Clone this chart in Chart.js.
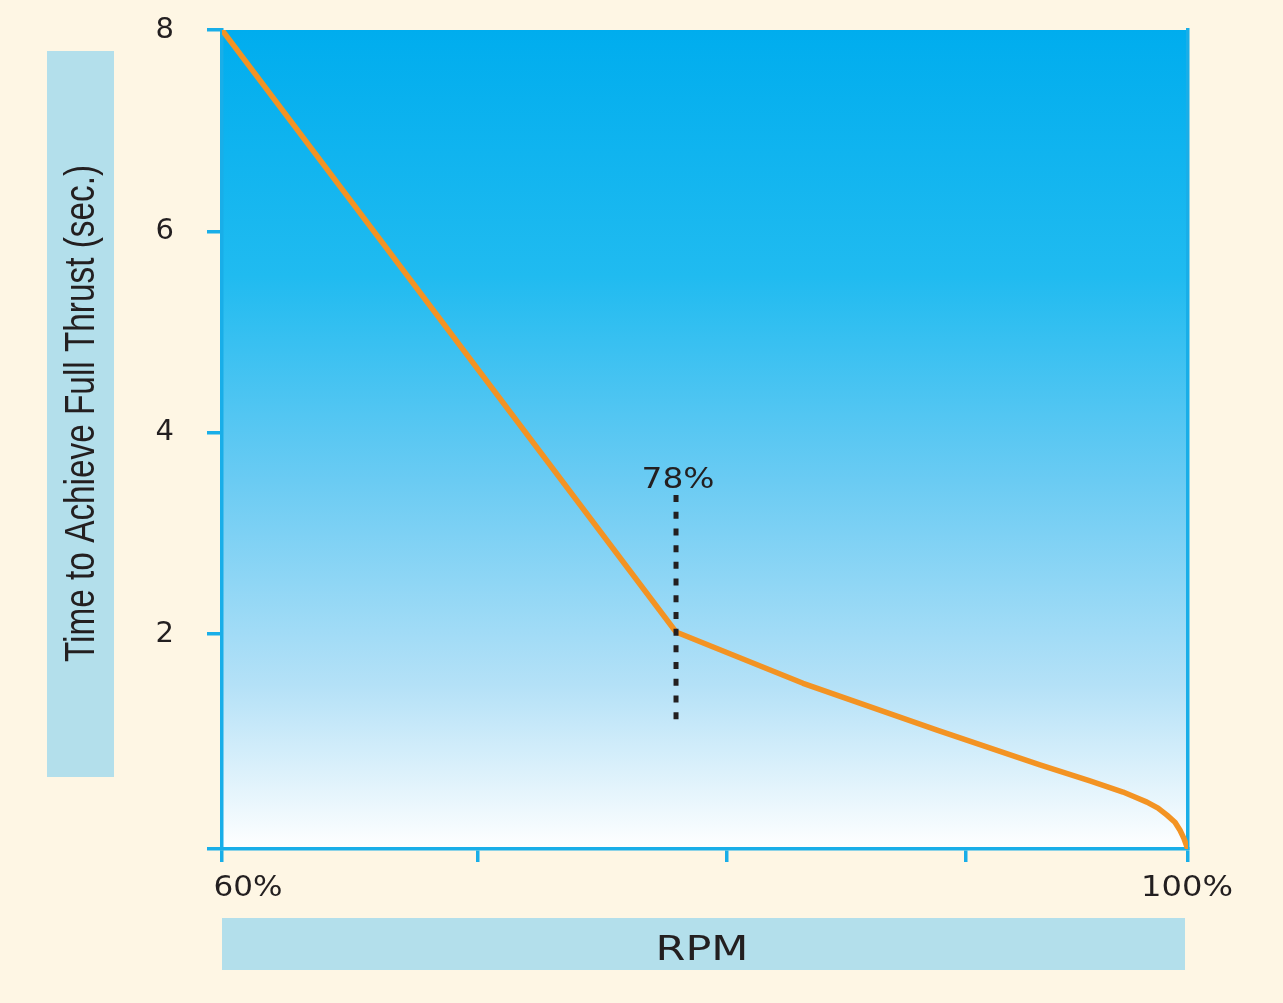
<!DOCTYPE html>
<html>
<head>
<meta charset="utf-8">
<title>Time to Achieve Full Thrust</title>
<script src="https://cdn.jsdelivr.net/npm/chart.js@4.4.1/dist/chart.umd.min.js"></script>
<style>
  html, body { margin: 0; padding: 0; background: #fef6e4; }
  #wrap { width: 1283px; height: 1003px; position: relative; }
</style>
</head>
<body>
<div id="wrap"><canvas id="grafica"></canvas></div>
<script>
// datos
const rpm = [60, 78.8, 84.06, 89.61, 93.87, 95.94, 97.31, 97.8, 98.3, 98.76, 99.13, 99.46, 99.67, 99.83, 99.96, 100];
const tiempo = [8, 2.02, 1.51, 1.045, 0.70, 0.54, 0.43, 0.38, 0.33, 0.27, 0.20, 0.13, 0.05, -0.03, -0.116, -0.136];

// linea punteada del 78%
const marcaX = 78.8;
const marcaY = [3.38, 1.14];
const marcaTexto = '78%';

// ejes
const yTicks = [2, 4, 6, 8];
const yMin = -0.136;
const yMax = 8;
const xTicks = [60, 70.6, 80.9, 90.8, 100];
const xTickLabels = ['60%', '', '', '', '100%'];

const tituloY = 'Time to Achieve Full Thrust (sec.)';
const tituloX = 'RPM';

const AZUL = '#19aee8';
const CAJA = '#b3dfeb';
const TEXTO = '#231f20';

// texto estirado para que ocupe un ancho dado
function textoAncho(ctx, txt, x, y, ancho) {
  const w = ctx.measureText(txt).width;
  ctx.save();
  ctx.translate(x, y);
  ctx.scale(ancho / w, 1);
  ctx.fillText(txt, 0, 0);
  ctx.restore();
}

const fondo = {
  id: 'fondo',
  beforeDraw(chart) {
    const { ctx, chartArea: a } = chart;
    ctx.save();
    // cajas de los titulos
    ctx.fillStyle = CAJA;
    ctx.fillRect(47, 51, 67, 726);
    ctx.fillRect(222, 918, 963, 52);
    // degradado del area
    const g = ctx.createLinearGradient(0, a.top, 0, a.bottom);
    g.addColorStop(0, '#00adee');
    g.addColorStop(0.3, '#20bbf0');
    g.addColorStop(0.55, '#6acbf3');
    g.addColorStop(0.8, '#b4e1f7');
    g.addColorStop(1, '#ffffff');
    ctx.fillStyle = g;
    ctx.fillRect(a.left, a.top, a.right - a.left, a.bottom - a.top);
    ctx.restore();
  },
  afterDraw(chart) {
    const { ctx } = chart;
    const x = chart.scales.x;
    const y = chart.scales.y;
    ctx.save();
    ctx.fillStyle = TEXTO;
    ctx.textBaseline = 'alphabetic';
    ctx.textAlign = 'center';

    // titulo Y
    ctx.font = '43px "Liberation Sans", Arial, sans-serif';
    ctx.save();
    ctx.translate(94, 413.5);
    ctx.rotate(-Math.PI / 2);
    textoAncho(ctx, tituloY, 0, 0, 497);
    ctx.restore();

    // titulo X
    ctx.font = '34px "DejaVu Sans", sans-serif';
    textoAncho(ctx, tituloX, 702, 960, 93);

    // etiquetas del eje X
    ctx.font = '29px "DejaVu Sans", sans-serif';
    xTicks.forEach((v, i) => {
      const t = xTickLabels[i];
      if (!t) return;
      const px = x.getPixelForValue(v);
      const ancho = t.length * 23;
      const cx = i === 0 ? px + 26 : px - 1;
      textoAncho(ctx, t, cx, 896, ancho);
    });

    // etiqueta del 78%
    const mx = x.getPixelForValue(marcaX);
    const my = y.getPixelForValue(marcaY[0]);
    textoAncho(ctx, marcaTexto, mx + 2, my - 7, 73);
    ctx.restore();
  }
};

new Chart(document.getElementById('grafica'), {
  type: 'line',
  data: {
    datasets: [
      {
        data: marcaY.map(v => ({ x: marcaX, y: v })),
        borderColor: TEXTO,
        borderWidth: 5,
        borderDash: [7, 9.7],
        pointRadius: 0,
        fill: false
      },
      {
        data: rpm.map((r, i) => ({ x: r, y: tiempo[i] })),
        borderColor: '#f39323',
        borderWidth: 5.5,
        borderJoinStyle: 'round',
        borderCapStyle: 'round',
        pointRadius: 0,
        tension: 0,
        fill: false
      }
    ]
  },
  options: {
    responsive: true,
    maintainAspectRatio: false,
    animation: false,
    layout: { padding: { top: 30, left: 0, right: 0, bottom: 0 } },
    plugins: {
      legend: { display: false },
      tooltip: { enabled: false }
    },
    scales: {
      x: {
        type: 'linear',
        min: 60,
        max: 100,
        afterBuildTicks: s => { s.ticks = xTicks.map(v => ({ value: v })); },
        afterFit: s => { s.height = 154; },
        ticks: { display: false },
        grid: {
          drawOnChartArea: false,
          drawTicks: true,
          tickLength: 13,
          color: AZUL,
          lineWidth: 3.5
        },
        border: { color: AZUL, width: 3.5 }
      },
      y: {
        type: 'linear',
        position: 'left',
        min: yMin,
        max: yMax,
        afterBuildTicks: s => { s.ticks = [yMin, ...yTicks].map(v => ({ value: v })); },
        afterFit: s => {
          s.width = 222;
          // que el padding de las etiquetas no empuje el area
          s.paddingTop = 0;
          s.paddingBottom = 0;
        },
        ticks: {
          padding: 33,
          color: TEXTO,
          font: { family: '"DejaVu Sans", sans-serif', size: 29 },
          callback: v => (yTicks.includes(v) ? String(v) : '')
        },
        grid: {
          drawOnChartArea: false,
          drawTicks: true,
          tickLength: 15,
          color: AZUL,
          lineWidth: 3.5
        },
        border: { color: AZUL, width: 3.5 }
      },
      y2: {
        type: 'linear',
        position: 'right',
        afterFit: s => { s.width = 95; },
        ticks: { display: false },
        grid: { display: false },
        border: { color: AZUL, width: 3.5 }
      }
    }
  },
  plugins: [fondo]
});
</script>
</body>
</html>
